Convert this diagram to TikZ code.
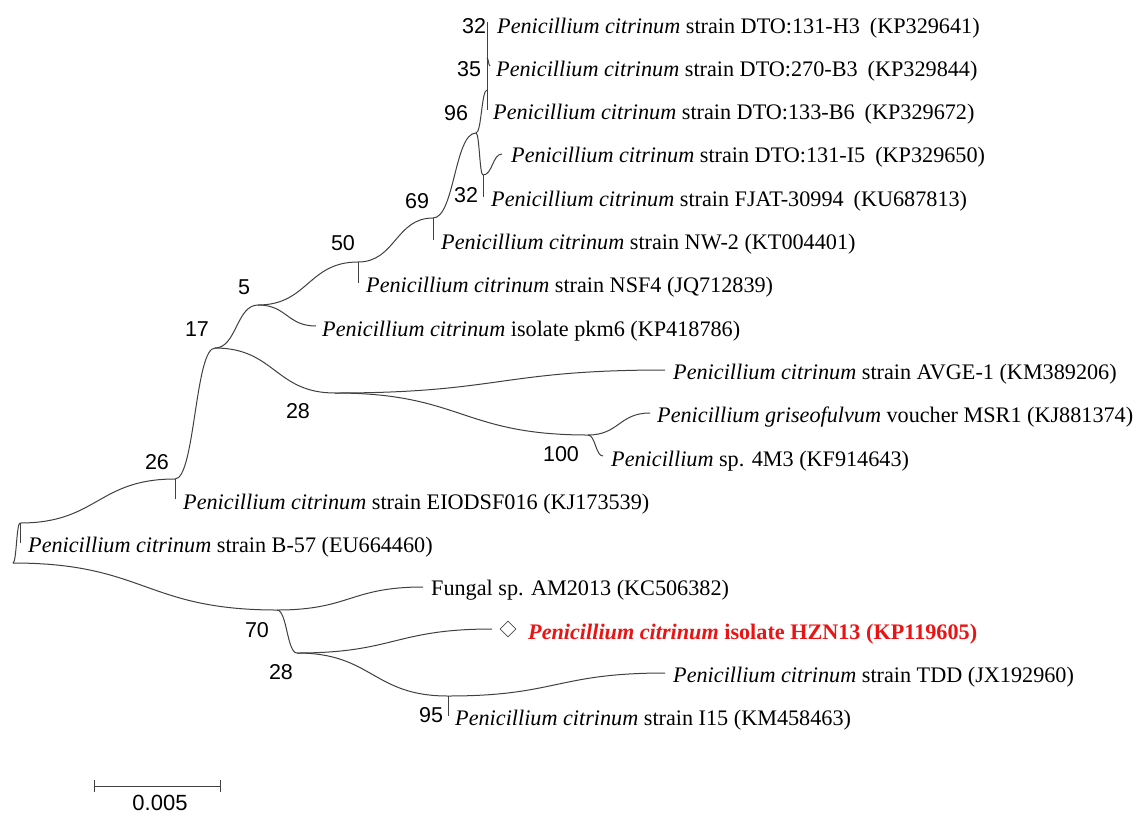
\documentclass[tikz,border=0pt]{standalone}
\usepackage{fontspec}
\setmainfont{Liberation Serif}
\newfontfamily\arialf{Liberation Sans}
\usetikzlibrary{calc,shapes.geometric}
\definecolor{hzred}{RGB}{235,20,20}
\newcommand{\br}[2]{\draw[branch] let \p1=(#1), \p2=(#2) in (\p1) .. controls ({0.5*\x1+0.5*\x2},\y1) and ({0.5*\x1+0.5*\x2},\y2) .. (\p2);}
\tikzset{
  branch/.style={draw=black!75, line width=1pt},
  lab/.style={anchor=base west, inner sep=0pt, font=\fontsize{22.2}{26}\selectfont},
  num/.style={anchor=center, inner sep=0pt, font=\arialf\fontsize{21.5}{25}\selectfont},
}
\begin{document}
\begin{tikzpicture}[x=1pt,y=-1pt]
\path[use as bounding box, fill=white] (0,0) rectangle (1141,815);
% internal nodes
\coordinate (R) at (13,563);
\coordinate (nX) at (20,523);
\coordinate (n26) at (175,479);
\coordinate (n17) at (215,348);
\coordinate (n5) at (258,305);
\coordinate (n50) at (358,262);
\coordinate (n69) at (433,218);
\coordinate (n96) at (476,133);
\coordinate (nA) at (487,90);
\coordinate (n35) at (487,58);
\coordinate (nB) at (483,175);
\coordinate (n28) at (335,393);
\coordinate (n100) at (588,435);
\coordinate (n70) at (277,610);
\coordinate (n28b) at (297,653);
\coordinate (n95) at (448,696);
% tips
\coordinate (t0) at (487,22);
\coordinate (t1) at (490,66);
\coordinate (t2) at (487,110);
\coordinate (t3) at (502,154);
\coordinate (t4) at (483,197);
\coordinate (t5) at (433,240);
\coordinate (t6) at (358,283);
\coordinate (t7) at (316,326);
\coordinate (t8) at (665,370);
\coordinate (t9) at (650,413);
\coordinate (t10) at (603,456);
\coordinate (t11) at (175,499);
\coordinate (t12) at (20,543);
\coordinate (t13) at (423,587);
\coordinate (t14) at (492,629);
\coordinate (t15) at (665,673);
\coordinate (t16) at (448,716);
% branches
\br{R}{nX}
\br{R}{n70}
\br{nX}{n26}
\draw[branch] (nX) -- (t12);
\br{n26}{n17}
\draw[branch] (n26) -- (t11);
\br{n17}{n5}
\br{n17}{n28}
\br{n5}{t7}
\br{n5}{n50}
\draw[branch] (n50) -- (t6);
\br{n50}{n69}
\draw[branch] (n69) -- (t5);
\br{n69}{n96}
\br{n96}{nA}
\br{n96}{nB}
\draw[branch] (nA) -- (t2);
\draw[branch] (nA) -- (n35);
\draw[branch] (n35) -- (t0);
\br{n35}{t1}
\br{nB}{t3}
\draw[branch] (nB) -- (t4);
\br{n28}{t8}
\br{n28}{n100}
\br{n100}{t9}
\br{n100}{t10}
\br{n70}{t13}
\br{n70}{n28b}
\br{n28b}{t14}
\br{n28b}{n95}
\br{n95}{t15}
\draw[branch] (n95) -- (t16);
% diamond marker
\node[draw=black!70, line width=0.7pt, diamond, minimum width=16pt, minimum height=16pt, inner sep=0pt] (dm) at (508,629) {};
% labels
\node[lab] (l0) at (497,33) {\textit{Penicillium citrinum} strain DTO:131-H3\hspace{0.45em}(KP329641)};
\node[lab] (l1) at (496,76.3) {\textit{Penicillium citrinum} strain DTO:270-B3\hspace{0.45em}(KP329844)};
\node[lab] (l2) at (493,119.6) {\textit{Penicillium citrinum} strain DTO:133-B6\hspace{0.45em}(KP329672)};
\node[lab] (l3) at (511,162.9) {\textit{Penicillium citrinum} strain DTO:131-I5\hspace{0.45em}(KP329650)};
\node[lab] (l4) at (491,206.2) {\textit{Penicillium citrinum} strain FJAT-30994\hspace{0.45em}(KU687813)};
\node[lab] (l5) at (441,249.5) {\textit{Penicillium citrinum} strain NW-2 (KT004401)};
\node[lab] (l6) at (366,292.8) {\textit{Penicillium citrinum} strain NSF4 (JQ712839)};
\node[lab] (l7) at (322,336.1) {\textit{Penicillium citrinum} isolate pkm6 (KP418786)};
\node[lab] (l8) at (673,379.4) {\textit{Penicillium citrinum} strain AVGE-1 (KM389206)};
\node[lab] (l9) at (657,422.7) {\textit{Penicillium griseofulvum} voucher MSR1 (KJ881374)};
\node[lab] (l10) at (611,466) {\textit{Penicillium} sp. 4M3 (KF914643)};
\node[lab] (l11) at (183,509.3) {\textit{Penicillium citrinum} strain EIODSF016 (KJ173539)};
\node[lab] (l12) at (28,552.6) {\textit{Penicillium citrinum} strain B-57 (EU664460)};
\node[lab] (l13) at (431,595.9) {Fungal sp. AM2013 (KC506382)};
\node[lab, text=hzred, font=\bfseries\fontsize{22.2}{26}\selectfont] (l14) at (528,639.2) {\textit{Penicillium citrinum} isolate HZN13 (KP119605)};
\node[lab] (l15) at (673,682.5) {\textit{Penicillium citrinum} strain TDD (JX192960)};
\node[lab] (l16) at (455,725.8) {\textit{Penicillium citrinum} strain I15 (KM458463)};
% bootstrap values
\node[num] (b1) at (474,26) {32};
\node[num] (b2) at (469,69) {35};
\node[num] (b3) at (456,113) {96};
\node[num] (b4) at (466,195) {32};
\node[num] (b5) at (417,201) {69};
\node[num] (b6) at (343,243) {50};
\node[num] (b7) at (244,287) {5};
\node[num] (b8) at (197,329) {17};
\node[num] (b9) at (298,411) {28};
\node[num] (b10) at (561,454) {100};
\node[num] (b11) at (157,462) {26};
\node[num] (b12) at (257,630) {70};
\node[num] (b13) at (281,672) {28};
\node[num] (b14) at (431,715) {95};
% scale bar
\coordinate (s1) at (94,786);
\coordinate (s2) at (220,786);
\draw[branch] (s1) -- (s2);
\draw[branch] ($(s1)+(0,-6)$) -- ($(s1)+(0,6)$);
\draw[branch] ($(s2)+(0,-6)$) -- ($(s2)+(0,6)$);
\node[num, font=\arialf\fontsize{22}{26}\selectfont] (sl) at (160,803) {0.005};
\end{tikzpicture}
\end{document}
